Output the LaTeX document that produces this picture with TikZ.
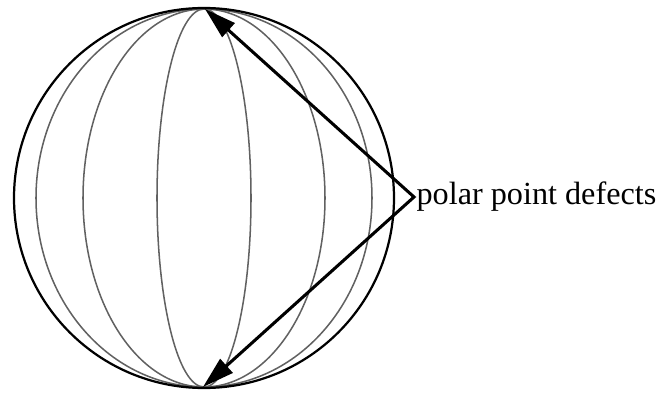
\documentclass[tikz,border=0pt]{standalone}
\usepackage{fontspec}
\setmainfont{Liberation Serif}
\usetikzlibrary{arrows.meta}

\begin{document}
\begin{tikzpicture}[
    x=0.03cm, y=-0.03cm,
    sphere/.style={
      draw=black,
      line width=1.9pt
    },
    meridian/.style={
      draw=black!62,
      line width=1.3pt
    },
    arr/.style={
      {Triangle[length=0.95cm,width=0.55cm]}-{Triangle[length=0.95cm,width=0.55cm]},
      line width=2.6pt,
      line join=miter
    },
    callout/.style={
      font=\fontsize{27.5}{30}\selectfont,
      inner sep=2pt
    }
  ]
  \useasboundingbox (0,0) rectangle (662,394);

  % Sphere with meridians
  \coordinate (centre) at (204,198);
  \draw[meridian] (centre) ellipse [x radius=168, y radius=189];
  \draw[meridian] (centre) ellipse [x radius=121, y radius=189];
  \draw[meridian] (centre) ellipse [x radius=47, y radius=189];
  \draw[sphere] (centre) circle [radius=190];

  % Poles
  \coordinate (npole) at (205,9);
  \coordinate (spole) at (203,387);

  % Label
  \node[callout,anchor=west] (defects) at (414,197) {polar point defects};

  % Arrows
  \draw[arr] (npole) -- (defects.west) -- (spole);
\end{tikzpicture}
\end{document}
